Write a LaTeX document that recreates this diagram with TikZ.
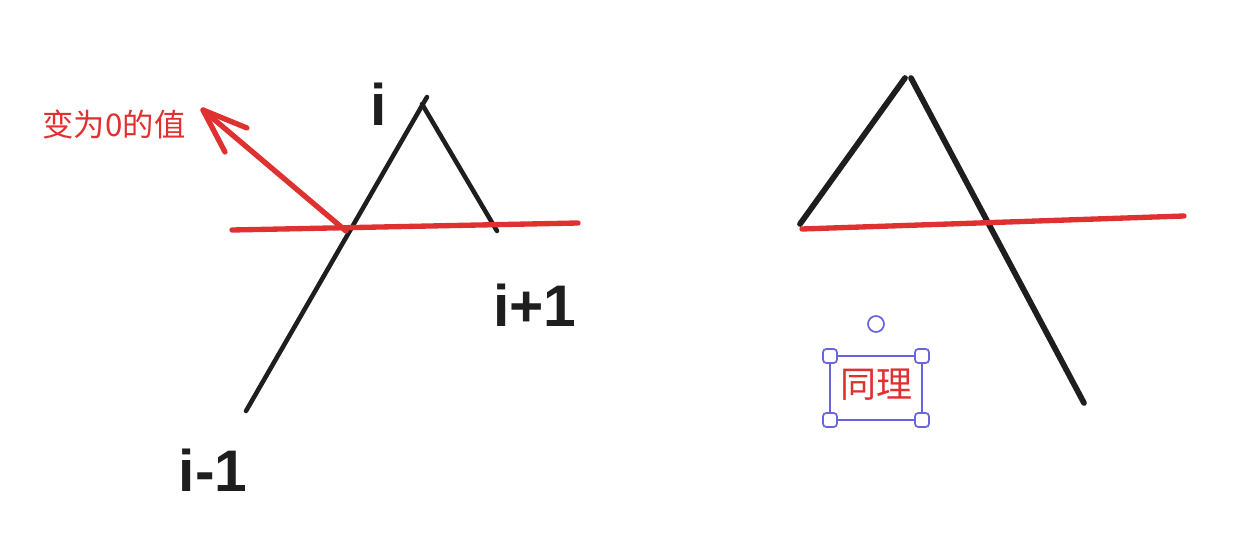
\documentclass[tikz,border=0pt]{standalone}
\usepackage{fontspec}
\setmainfont{Liberation Sans}
\newfontfamily\cjk{Noto Sans CJK SC}
\usetikzlibrary{calc}
\definecolor{ink}{HTML}{1E1E1E}
\definecolor{redink}{HTML}{E03131}
\definecolor{sel}{HTML}{6965DB}
\begin{document}
\begin{tikzpicture}[x=0.75pt,y=-0.75pt,
  blk/.style={draw=ink,line width=3.4pt,line cap=round},
  blkthick/.style={draw=ink,line width=4.3pt,line cap=round},
  redl/.style={draw=redink,line width=4pt,line cap=round,line join=round},
  lbl/.style={text=ink,font=\bfseries\fontsize{44}{44}\selectfont,inner sep=0pt},
  redtxt/.style={text=redink,inner sep=0pt},
  selline/.style={draw=sel,line width=1.3pt},
  handle/.style={draw=sel,fill=white,line width=1.3pt,rounded corners=2.5pt}]
\useasboundingbox (0,0) rectangle (1240,556);
\fill[white] (0,0) rectangle (1240,556);

% ---------- left figure ----------
\coordinate (Lbot) at (246,411);
\coordinate (Ltop) at (427,97);
\coordinate (Lapex) at (422,104);
\coordinate (Rend) at (497,231);
\draw[blk] (Lbot) -- (Ltop);
\draw[blk] (Lapex) -- (Rend);

\coordinate (redA) at (232,230);
\coordinate (redB) at (578,223);
\draw[redl] (redA) -- (redB);

\coordinate (cross) at (346,231);
\coordinate (tip) at (203,110);
\coordinate (barbA) at (247,128);
\coordinate (barbB) at (225,152);
\draw[redl] (cross) -- (tip);
\draw[redl] (barbA) -- (tip) -- (barbB);

\node[redtxt,font=\cjk\fontsize{23.5}{23.5}\selectfont] (zero) at (114,124) {变为0的值};
\node[lbl] (li) at (379,104) {i};
\node[lbl] (lip) at (535,305) {i+1};
\node[lbl] (lim) at (213,470) {i-1};

% ---------- right figure ----------
\coordinate (R1) at (800,224);
\coordinate (R2) at (905,78);
\coordinate (R3) at (911,78);
\coordinate (R4) at (1084,403);
\draw[blkthick] (R1) -- (R2);
\draw[blkthick] (R3) -- (R4);
\coordinate (rr1) at (802,229);
\coordinate (rr2) at (1184,216);
\draw[redl] (rr1) -- (rr2);

% selection box
\coordinate (s1) at (830,356);
\coordinate (s2) at (922,356);
\coordinate (s3) at (922,420);
\coordinate (s4) at (830,420);
\draw[selline] (s1) -- (s2) -- (s3) -- (s4) -- cycle;
\foreach \c in {s1,s2,s3,s4}{
  \draw[handle] ($(\c)+(-7,-7)$) rectangle ($(\c)+(7,7)$);
}
\node[draw=sel,line width=1.3pt,circle,minimum size=12pt,inner sep=0pt] (rot) at (876,324) {};
\node[redtxt,font=\cjk\fontsize{27}{27}\selectfont] (same) at (876,385) {同理};
\end{tikzpicture}
\end{document}
